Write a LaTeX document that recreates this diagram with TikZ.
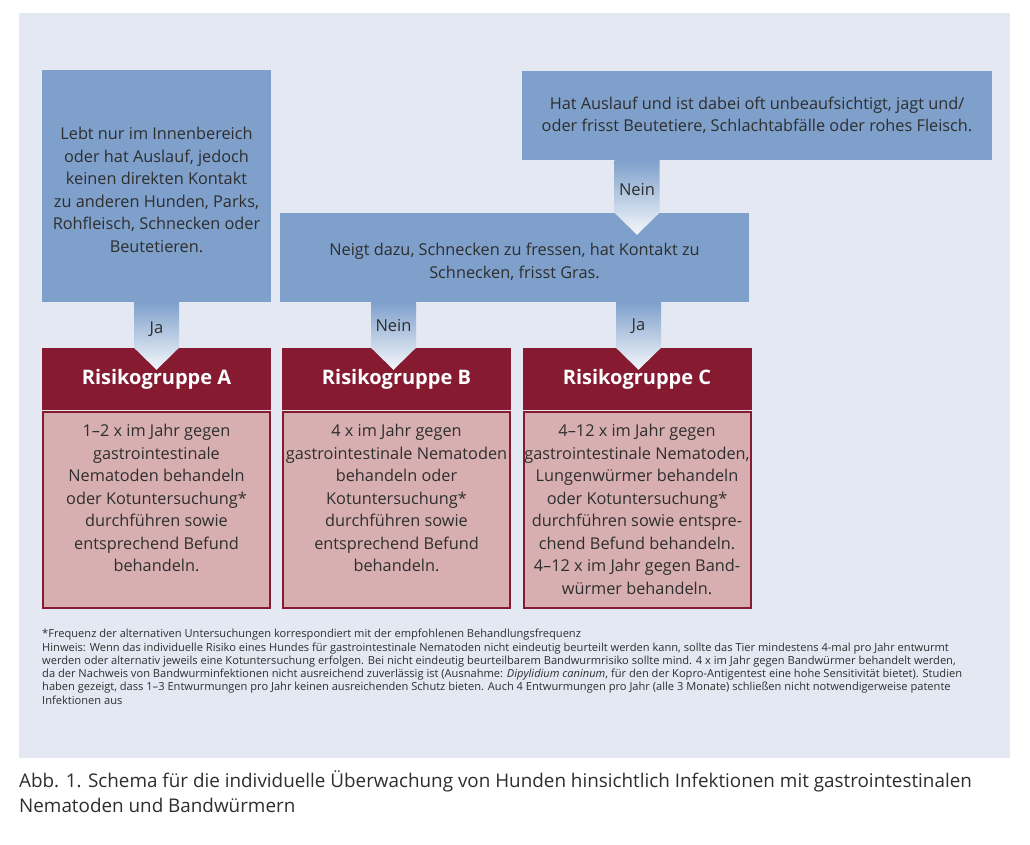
\documentclass[tikz,border=0pt]{standalone}
\usepackage{fontspec}
\setmainfont{Open Sans}
\usetikzlibrary{calc}
\definecolor{panel}{HTML}{E3E8F3}
\definecolor{boxblue}{HTML}{7EA0CB}
\definecolor{hdrred}{HTML}{851A30}
\definecolor{bodypink}{HTML}{D8AFB1}
\definecolor{txt}{HTML}{2E2E2E}
\newcommand\flowarrow[2]{%
  \shade[top color=boxblue, bottom color=white!92!boxblue]
    ($(#1)+(-22.5,0)$) -- ($(#1)+(22.5,0)$) -- ($(#2)+(22.5,0)$)
    -- ($(#2)+(0,22)$) -- ($(#2)+(-22.5,0)$) -- cycle;}
\begin{document}
\begin{tikzpicture}[x=1pt,y=-1pt,
  qbox/.style={fill=boxblue, inner sep=0pt, text=txt, align=center,
    font=\fontsize{16.3}{22.5}\selectfont},
  qtext/.style={inner sep=0pt, text=txt, align=center,
    font=\fontsize{16.3}{22.5}\selectfont},
  hdrbox/.style={fill=hdrred, inner sep=0pt, minimum width=229, minimum height=62,
    text=white, font=\fontsize{20}{22}\selectfont\bfseries},
  bodybox/.style={fill=bodypink, draw=hdrred, line width=2pt, inner sep=0pt,
    minimum width=227, minimum height=196},
  bodytext/.style={anchor=north, inner sep=0pt, text=txt, align=center,
    font=\fontsize{16.3}{22.5}\selectfont},
  lbl/.style={text=txt, inner sep=0pt, font=\fontsize{16.5}{18}\selectfont}]
\useasboundingbox (0,0) rectangle (1030,845);
\fill[white] (0,0) rectangle (1030,845);
\node[fill=panel, inner sep=0pt, minimum width=991, minimum height=745, anchor=north west] (panel) at (19,13) {};

% question boxes
\node[qbox, minimum width=229, minimum height=232] (qA) at (156.5,186)
  {\\[-2pt]Lebt nur im Innenbereich\\oder hat Auslauf, jedoch\\keinen direkten Kontakt\\zu anderen Hunden, Parks,\\Rohfleisch, Schnecken oder\\Beutetieren.};
\node[qbox, minimum width=470, minimum height=89] (qTop) at (757,115.5)
  {Hat Auslauf und ist dabei oft unbeaufsichtigt, jagt und/\\oder frisst Beutetiere, Schlachtabfälle oder rohes Fleisch.};
\node[qbox, minimum width=469, minimum height=89] (qMid) at (514.5,257.5) {};
\node[qtext] (tMid) at ($(qMid.center)+(0,4.5)$)
  {Neigt dazu, Schnecken zu fressen, hat Kontakt zu\\Schnecken, frisst Gras.};

% risk groups
\node[hdrbox] (hA) at (156.5,379) {Risikogruppe A};
\node[hdrbox] (hB) at (396.5,379) {Risikogruppe B};
\node[hdrbox] (hC) at (637,379) {Risikogruppe C};
\node[bodybox, anchor=north] (bA) at ($(hA.south)+(0,1)$) {};
\node[bodybox, anchor=north] (bB) at ($(hB.south)+(0,1)$) {};
\node[bodybox, anchor=north] (bC) at ($(hC.south)+(0,1)$) {};
\node[bodytext] (tA) at ($(bA.north)+(0,13)$)
  {1–2 x im Jahr gegen\\gastrointestinale\\Nematoden behandeln\\oder Kotuntersuchung*\\durchführen sowie\\entsprechend Befund\\behandeln.};
\node[bodytext] (tB) at ($(bB.north)+(0,13)$)
  {4 x im Jahr gegen\\gastrointestinale Nematoden\\behandeln oder\\Kotuntersuchung*\\durchführen sowie\\entsprechend Befund\\behandeln.};
\node[bodytext] (tC) at ($(bC.north)+(0,13)$)
  {4–12 x im Jahr gegen\\gastrointestinale Nematoden,\\Lungenwürmer behandeln\\oder Kotuntersuchung*\\durchführen sowie entspre-\\chend Befund behandeln.\\4–12 x im Jahr gegen Band-\\würmer behandeln.};

% arrows
\coordinate (aTopS) at (hC.north |- qTop.south);
\coordinate (aTopE) at (hC.north |- qMid.north);
\flowarrow{aTopS}{aTopE}
\node[lbl] (lTop) at ($(aTopS)+(0,29)$) {Nein};

\coordinate (aAS) at (hA.north |- qA.south);
\flowarrow{aAS}{hA.north}
\node[lbl] (lA) at ($(aAS)+(0,27)$) {Ja};

\coordinate (aBS) at ($(hB.north |- qMid.south)+(-3,0)$);
\coordinate (aBE) at ($(hB.north)+(-3,0)$);
\flowarrow{aBS}{aBE}
\node[lbl] (lB) at ($(aBS)+(0,23.5)$) {Nein};

\coordinate (aCS) at ($(hC.north |- qMid.south)+(1.5,0)$);
\coordinate (aCE) at ($(hC.north)+(1.5,0)$);
\flowarrow{aCS}{aCE}
\node[lbl] (lC) at ($(aCS)+(0,23.5)$) {Ja};

% footnote
\node[anchor=north west, inner sep=0pt, text=txt, align=left,
  font=\fontsize{11.1}{13.3}\selectfont] (foot) at (42,629)
  {*Frequenz der alternativen Untersuchungen korrespondiert mit der empfohlenen Behandlungsfrequenz\\
   Hinweis: Wenn das individuelle Risiko eines Hundes für gastrointestinale Nematoden nicht eindeutig beurteilt werden kann, sollte das Tier mindestens 4-mal pro Jahr entwurmt\\
   werden oder alternativ jeweils eine Kotuntersuchung erfolgen. Bei nicht eindeutig beurteilbarem Bandwurmrisiko sollte mind. 4 x im Jahr gegen Bandwürmer behandelt werden,\\
   da der Nachweis von Bandwurminfektionen nicht ausreichend zuverlässig ist (Ausnahme: \textit{Dipylidium caninum}, für den der Kopro-Antigentest eine hohe Sensitivität bietet). Studien\\
   haben gezeigt, dass 1–3 Entwurmungen pro Jahr keinen ausreichenden Schutz bieten. Auch 4 Entwurmungen pro Jahr (alle 3 Monate) schließen nicht notwendigerweise patente\\
   Infektionen aus};

% caption
\node[anchor=north west, inner sep=0pt, text=txt, align=left,
  font=\fontsize{18.85}{25}\selectfont] (cap) at (19,770.5)
  {Abb. 1. Schema für die individuelle Überwachung von Hunden hinsichtlich Infektionen mit gastrointestinalen\\
   Nematoden und Bandwürmern};
\end{tikzpicture}
\end{document}
